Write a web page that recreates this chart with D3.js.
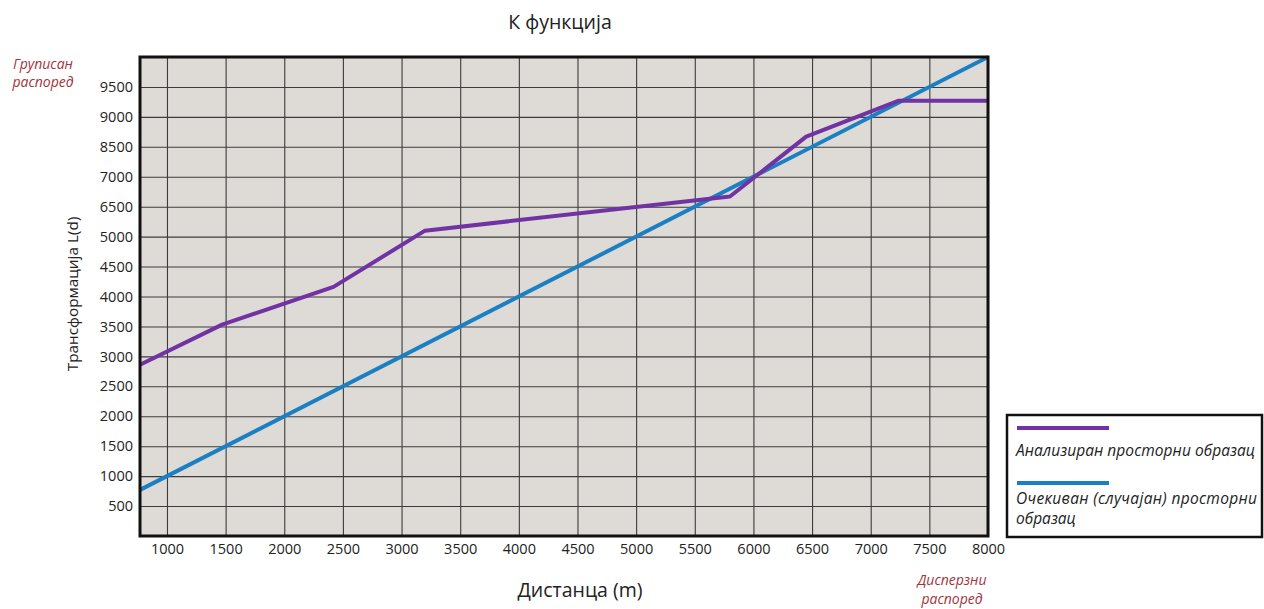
<!DOCTYPE html>
<html>
<head>
<meta charset="utf-8">
<script src="https://cdn.jsdelivr.net/npm/d3@7"></script>
<style>
  body { margin: 0; background: #fff; }
  text { font-family: "Open Sans", "Noto Sans", sans-serif; fill: #222; }
</style>
</head>
<body>
<script>
// axis ticks (the y labels are printed as in the original chart)
const xTicks = [1000, 1500, 2000, 2500, 3000, 3500, 4000, 4500, 5000, 5500, 6000, 6500, 7000, 7500, 8000];
const yTicks = [500, 1000, 1500, 2000, 2500, 3000, 3500, 4000, 4500, 5000, 5500, 6000, 6500, 7000, 7500];
const yTickLabels = ["500", "1000", "1500", "2000", "2500", "3000", "3500", "4000", "4500", "5000", "6500", "7000", "8500", "9000", "9500"];

// analysed pattern (purple)
const analyzedX = [770, 1470, 2420, 3200, 5800, 6450, 7240, 8000];
const analyzedY = [2860, 3530, 4160, 5100, 5670, 6670, 7270, 7270];

// expected random pattern (blue)
const expectedX = [770, 8000];
const expectedY = [770, 8000];

const legendLabels = ["Анализиран просторни образац", "Очекиван (случајан) просторни", "образац"];

const width = 1264;
const height = 609;
const plotLeft = 140, plotRight = 988, plotTop = 57, plotBottom = 536;

const svg = d3.select("body")
              .append("svg")
              .attr("width", width)
              .attr("height", height);

const x = d3.scaleLinear().domain([770, 8000]).range([plotLeft, plotRight]);
const y = d3.scaleLinear().domain([0, 8000]).range([plotBottom, plotTop]);

// plot background
svg.append("rect")
   .attr("x", plotLeft).attr("y", plotTop)
   .attr("width", plotRight - plotLeft).attr("height", plotBottom - plotTop)
   .attr("fill", "#dedad6");

// grid
const gx = svg.append("g")
              .attr("transform", `translate(0,${plotBottom})`)
              .call(d3.axisBottom(x).tickValues(xTicks).tickSize(-(plotBottom - plotTop)).tickFormat(""));
const gy = svg.append("g")
              .attr("transform", `translate(${plotLeft},0)`)
              .call(d3.axisLeft(y).tickValues(yTicks).tickSize(-(plotRight - plotLeft)).tickFormat(""));
[gx, gy].forEach(g => {
  g.select(".domain").remove();
  g.selectAll("line").attr("stroke", "#3c3c3c").attr("stroke-width", 1.1);
});

// tick labels
const lx = svg.append("g")
              .attr("transform", `translate(0,${plotBottom})`)
              .call(d3.axisBottom(x).tickValues(xTicks).tickSize(0).tickPadding(8)
                      .tickFormat(d3.format("d")));
const ly = svg.append("g")
              .attr("transform", `translate(${plotLeft},0)`)
              .call(d3.axisLeft(y).tickValues(yTicks).tickSize(0).tickPadding(7)
                      .tickFormat((d, i) => yTickLabels[i]));
[lx, ly].forEach(g => {
  g.select(".domain").remove();
  g.selectAll("text").attr("font-size", 14.5).attr("font-family", "Open Sans").attr("fill", "#222");
});

// lines
const line = d3.line().x(d => x(d[0])).y(d => y(d[1]));

svg.append("path")
   .datum(expectedX.map((v, i) => [v, expectedY[i]]))
   .attr("d", line)
   .attr("fill", "none")
   .attr("stroke", "#1b7fc3")
   .attr("stroke-width", 4);

svg.append("path")
   .datum(analyzedX.map((v, i) => [v, analyzedY[i]]))
   .attr("d", line)
   .attr("fill", "none")
   .attr("stroke", "#7132a3")
   .attr("stroke-width", 4)
   .attr("stroke-linejoin", "round");

// frame
svg.append("rect")
   .attr("x", plotLeft).attr("y", plotTop)
   .attr("width", plotRight - plotLeft).attr("height", plotBottom - plotTop)
   .attr("fill", "none")
   .attr("stroke", "#111")
   .attr("stroke-width", 3);

// titles
svg.append("text")
   .attr("x", 560).attr("y", 29)
   .attr("text-anchor", "middle")
   .attr("font-size", 19.5)
   .text("К функција");

svg.append("text")
   .attr("x", 580).attr("y", 597)
   .attr("text-anchor", "middle")
   .attr("font-size", 19.5)
   .text("Дистанца (m)");

svg.append("text")
   .attr("transform", "translate(78,294) rotate(-90)")
   .attr("text-anchor", "middle")
   .attr("font-size", 15.3)
   .text("Трансформација L(d)");

// red corner notes
const notes = [
  {x: 43, y: 69, t: "Груписан"},
  {x: 43, y: 87, t: "распоред"},
  {x: 952, y: 585, t: "Дисперзни"},
  {x: 952, y: 604, t: "распоред"}
];
svg.append("g")
   .selectAll("text")
   .data(notes)
   .enter().append("text")
   .attr("x", d => d.x).attr("y", d => d.y)
   .attr("text-anchor", "middle")
   .attr("font-size", 14)
   .attr("font-style", "italic")
   .style("fill", "#a3343c")
   .text(d => d.t);

// legend
const legend = svg.append("g");
legend.append("rect")
      .attr("x", 1007).attr("y", 415)
      .attr("width", 255).attr("height", 122)
      .attr("fill", "#fff")
      .attr("stroke", "#111")
      .attr("stroke-width", 2.5);
legend.append("line")
      .attr("x1", 1017).attr("x2", 1109).attr("y1", 428).attr("y2", 428)
      .attr("stroke", "#7132a3").attr("stroke-width", 4);
legend.append("line")
      .attr("x1", 1017).attr("x2", 1109).attr("y1", 483).attr("y2", 483)
      .attr("stroke", "#1b7fc3").attr("stroke-width", 4);
legend.selectAll(".lbl")
      .data([{y: 456, t: legendLabels[0]}, {y: 504, t: legendLabels[1]}, {y: 524, t: legendLabels[2]}])
      .enter().append("text")
      .attr("class", "lbl")
      .attr("x", 1016).attr("y", d => d.y)
      .attr("font-size", 15.5).attr("font-style", "italic")
      .attr("textLength", (d, i) => i === 0 ? 239 : (i === 1 ? 241 : null))
      .text(d => d.t);
</script>
</body>
</html>
